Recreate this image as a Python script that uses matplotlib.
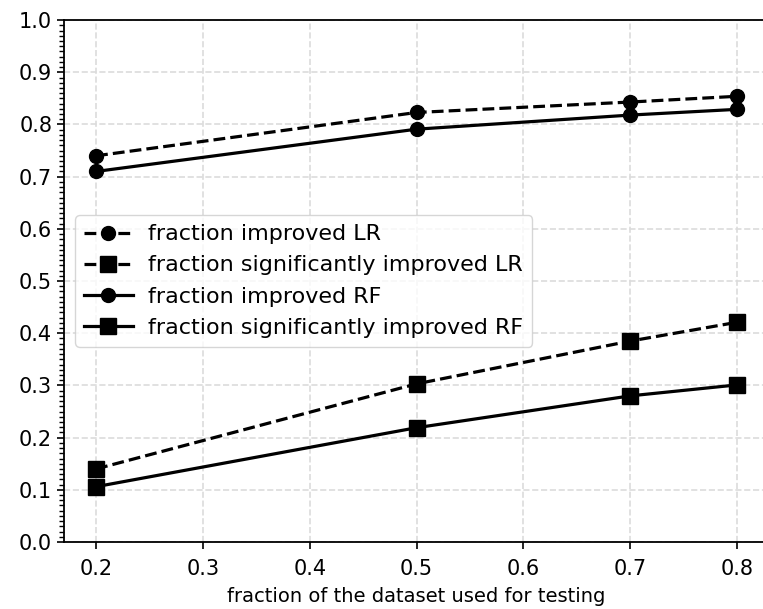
import matplotlib
matplotlib.use("Agg")
import matplotlib.pyplot as plt
from matplotlib.ticker import MultipleLocator

# fraction of the dataset used for testing
test_frac = [0.2, 0.5, 0.7, 0.8]

# values
improved_lr = [0.740, 0.823, 0.843, 0.854]
sig_improved_lr = [0.140, 0.303, 0.385, 0.421]
improved_rf = [0.710, 0.791, 0.818, 0.829]
sig_improved_rf = [0.106, 0.219, 0.280, 0.301]

labels = [
    "fraction improved LR",
    "fraction significantly improved LR",
    "fraction improved RF",
    "fraction significantly improved RF",
]

plt.rcParams["font.family"] = "DejaVu Sans"
plt.rcParams["font.size"] = 14

fig = plt.figure(figsize=(7.63, 6.09), dpi=100)
# right spine sits just past the image edge, as in the reference
ax = fig.add_axes([0.0839, 0.110, 0.924, 0.857])

ax.plot(test_frac, improved_lr, "k--o", lw=2.3, ms=10, label=labels[0])
ax.plot(test_frac, sig_improved_lr, "k--s", lw=2.3, ms=11, label=labels[1])
ax.plot(test_frac, improved_rf, "k-o", lw=2.3, ms=10, label=labels[2])
ax.plot(test_frac, sig_improved_rf, "k-s", lw=2.3, ms=11, label=labels[3])

ax.set_xlim(0.17, 0.83)
ax.set_ylim(0.0, 1.0)
ax.set_xticks([0.2, 0.3, 0.4, 0.5, 0.6, 0.7, 0.8])
ax.yaxis.set_major_locator(MultipleLocator(0.1))
ax.yaxis.set_minor_locator(MultipleLocator(0.01))
ax.tick_params(axis="both", which="major", length=5, width=1.2, labelsize=15)
ax.tick_params(axis="x", which="major", pad=7)
ax.tick_params(axis="y", which="minor", length=3.5, width=1.0)

ax.grid(True, which="major", ls="--", color="#dcdcdc", lw=1.2)
ax.set_axisbelow(True)
for s in ax.spines.values():
    s.set_linewidth(1.3)

ax.set_xlabel("fraction of the dataset used for testing", fontsize=14, labelpad=6)
ax.legend(loc="center left", fontsize=16, handlelength=2.2,
          handletextpad=0.7, borderaxespad=0.5, labelspacing=0.5)

fig.savefig("out.png", dpi=100)
